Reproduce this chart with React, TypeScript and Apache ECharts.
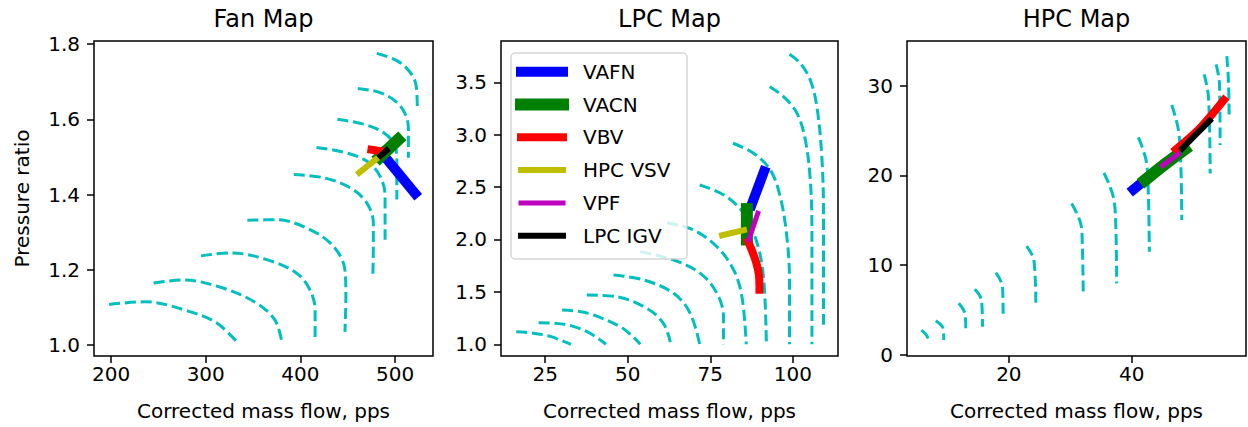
import React, { useEffect, useRef } from 'react';
import * as echarts from 'echarts';

const FONT = 'DejaVu Sans';
const SPEED_COLOR = '#00bfbf';

// ---------- axis ranges and ticks ----------
const fanXRange = [182, 540];
const fanYRange = [0.971, 1.808];
const fanXTicks = [200, 300, 400, 500];
const fanYTicks = [1.0, 1.2, 1.4, 1.6, 1.8];

const lpcXRange = [11.6, 113.7];
const lpcYRange = [0.888, 3.894];
const lpcXTicks = [25, 50, 75, 100];
const lpcYTicks = [1.0, 1.5, 2.0, 2.5, 3.0, 3.5];

const hpcXRange = [3.42, 58.6];
const hpcYRange = [-0.11, 34.98];
const hpcXTicks = [20, 40];
const hpcYTicks = [0, 10, 20, 30];

const mapTitles = ['Fan Map', 'LPC Map', 'HPC Map'];
const xAxisTitle = 'Corrected mass flow, pps';
const yAxisTitle = 'Pressure ratio';

// ---------- speed lines (corrected flow, pressure ratio) ----------
const fanSpeedLines = [
  [[198, 1.108], [236, 1.115], [283, 1.089], [312, 1.058], [334.5, 1.004]],
  [[245, 1.165], [276, 1.173], [319, 1.151], [354, 1.111], [373, 1.067], [380, 1.013]],
  [[295, 1.237], [326, 1.245], [364.5, 1.227], [396, 1.191], [410, 1.147], [415.5, 1.093], [415.5, 1.009]],
  [[344, 1.332], [375, 1.333], [410, 1.307], [435, 1.262], [447, 1.2], [448, 1.129], [447, 1.035]],
  [[393, 1.453], [424, 1.445], [452.5, 1.418], [470, 1.378], [477, 1.325], [477, 1.262], [476.5, 1.187]],
  [[417, 1.525], [445, 1.513], [470, 1.489], [484, 1.449], [489.4, 1.396], [489.4, 1.28]],
  [[439, 1.6], [466.5, 1.587], [487.6, 1.565], [500, 1.529], [501.8, 1.485], [501.8, 1.387]],
  [[460.6, 1.682], [484, 1.671], [501.8, 1.645], [511.6, 1.609], [514, 1.573], [514, 1.498]],
  [[480.7, 1.775], [501.8, 1.756], [515.8, 1.725], [522.2, 1.689], [523.5, 1.622]],
];

const lpcSpeedLines = [
  [[16.2, 1.12], [20.5, 1.11], [26.5, 1.075], [32.8, 1.0]],
  [[23, 1.206], [28, 1.2], [33, 1.175], [38.6, 1.105], [43.4, 1.0]],
  [[30.1, 1.327], [35, 1.315], [39.6, 1.28], [47.7, 1.168], [51, 1.09], [53.8, 1.0]],
  [[37.6, 1.47], [46.7, 1.454], [55.8, 1.343], [60.8, 1.2], [62.9, 1.02]],
  [[45.7, 1.661], [54.8, 1.614], [63.9, 1.487], [68.9, 1.296], [71.8, 1.0]],
  [[53.8, 1.884], [63.9, 1.804], [72, 1.677], [77, 1.487], [79, 1.263], [79, 1.0]],
  [[61.9, 2.16], [69.9, 2.091], [77, 1.931], [82.1, 1.709], [84.6, 1.454], [85.9, 1.0]],
  [[71.8, 2.52], [79.1, 2.425], [85.1, 2.25], [89.2, 1.964], [91.2, 1.614], [92, 1.0]],
  [[81.9, 2.918], [88.1, 2.823], [93.2, 2.663], [96.2, 2.408], [98.2, 2.027], [99, 1.614], [99, 1.0]],
  [[93, 3.458], [97.2, 3.363], [101.3, 3.204], [103.8, 2.95], [105.3, 2.568], [105.8, 2.09], [105.8, 1.0]],
  [[99, 3.767], [102.3, 3.681], [105.3, 3.522], [107.3, 3.267], [108.8, 2.79], [109.3, 2.25], [109.3, 1.153]],
];

const hpcSpeedLines = [
  [[5.77, 2.78], [6.6, 2.2], [7.12, 1.3]],
  [[8.1, 3.82], [9.29, 2.97], [9.4, 1.67]],
  [[11.85, 5.76], [12.83, 4.64], [12.99, 2.97]],
  [[14.46, 7.32], [15.55, 6.12], [15.71, 3.15]],
  [[17.88, 9.17], [18.97, 7.61], [19.07, 4.27]],
  [[22.89, 12.14], [24.07, 10.58], [24.4, 5.38]],
  [[30.22, 16.89], [31.69, 14.67], [31.95, 12.44], [32.11, 6.87]],
  [[35.48, 20.3], [37.0, 17.63], [37.4, 14.5], [37.55, 7.98]],
  [[41.08, 24.24], [42.33, 21.71], [42.7, 18.0], [42.87, 11.5]],
  [[46.52, 27.84], [47.6, 25.06], [48.0, 21.0], [48.15, 15.03]],
  [[51.79, 31.26], [52.49, 28.76], [52.76, 20.23]],
  [[53.74, 32.37], [54.28, 30.26], [54.39, 23.39]],
  [[55.48, 33.3], [55.74, 30.62], [55.86, 26.36]],
];

// ---------- operating lines per actuator ----------
const actuatorNames = ['VAFN', 'VACN', 'VBV', 'HPC VSV', 'VPF', 'LPC IGV'];
const actuatorColors = ['#0000ff', '#008000', '#ff0000', '#bfbf00', '#bf00bf', '#000000'];
const actuatorWidths = [10, 12, 8, 6, 5, 6];

const fanVAFN = [[486, 1.51], [521, 1.403]];
const fanVACN = [[484, 1.5], [503, 1.545]];
const fanVBV = [[475, 1.519], [485, 1.515]];
const fanHPCVSV = [[462, 1.458], [484, 1.502]];
const fanVPF = [[485, 1.505]];
const fanLPCIGV = [[484.5, 1.503], [491, 1.517]];

const lpcVAFN = [[87.5, 2.33], [91.3, 2.65]];
const lpcVACN = [[86.1, 2.0], [86.1, 2.29]];
const lpcVBV = [[86.5, 1.98], [88.5, 1.82], [89.7, 1.67], [89.9, 1.52]];
const lpcHPCVSV = [[78.6, 2.04], [85.2, 2.09]];
const lpcVPF = [[86.7, 2.0], [89.4, 2.25]];
const lpcLPCIGV = [[86.5, 1.99]];

const hpcVAFN = [[40.3, 18.45], [42.2, 19.5]];
const hpcVACN = [[42.2, 19.5], [45.5, 21.3], [48.6, 22.9]];
const hpcVBV = [[47.2, 22.9], [51, 25.2], [55, 28.4]];
const hpcHPCVSV = [[45.5, 21.3]];
const hpcVPF = [[45, 21.1], [47.6, 22.4]];
const hpcLPCIGV = [[48.2, 23.0], [50.5, 24.6], [52.7, 26.1]];

const fanOperating = [fanVAFN, fanVACN, fanVBV, fanHPCVSV, fanVPF, fanLPCIGV];
const lpcOperating = [lpcVAFN, lpcVACN, lpcVBV, lpcHPCVSV, lpcVPF, lpcLPCIGV];
const hpcOperating = [hpcVAFN, hpcVACN, hpcVBV, hpcHPCVSV, hpcVPF, hpcLPCIGV];

// ---------- layout ----------
const GRID_TOP = 41;
const GRID_H = 315;
const grids = [
  { left: 94, width: 339 },
  { left: 501, width: 337 },
  { left: 907, width: 339 },
];

function buildOption() {
  const xRanges = [fanXRange, lpcXRange, hpcXRange];
  const yRanges = [fanYRange, lpcYRange, hpcYRange];
  const xTicks = [fanXTicks, lpcXTicks, hpcXTicks];
  const yTicks = [fanYTicks, lpcYTicks, hpcYTicks];
  const yDecimals = [1, 1, 0];
  const speedSets = [fanSpeedLines, lpcSpeedLines, hpcSpeedLines];
  const opSets = [fanOperating, lpcOperating, hpcOperating];

  const labelStyle = { fontSize: 20, color: '#000', fontFamily: FONT };
  const tickStyle = { color: '#000', width: 1.5 };

  const xAxis = grids.map((g, i) => ({
    type: 'value',
    gridIndex: i,
    min: xRanges[i][0],
    max: xRanges[i][1],
    axisLine: { show: false, onZero: false },
    splitLine: { show: false },
    axisTick: { show: true, length: 7, inside: false, lineStyle: tickStyle, customValues: xTicks[i] },
    axisLabel: { ...labelStyle, margin: 8, customValues: xTicks[i], formatter: (v: number) => String(v) },
    name: xAxisTitle,
    nameLocation: 'middle',
    nameGap: 45,
    nameMoveOverlap: false,
    nameTextStyle: { fontSize: 20, color: '#000', fontFamily: FONT },
  }));

  const yAxis = grids.map((g, i) => ({
    type: 'value',
    gridIndex: i,
    min: yRanges[i][0],
    max: yRanges[i][1],
    axisLine: { show: false, onZero: false },
    splitLine: { show: false },
    axisTick: { show: true, length: 7, inside: false, lineStyle: tickStyle, customValues: yTicks[i] },
    axisLabel: {
      ...labelStyle,
      margin: 14,
      customValues: yTicks[i],
      formatter: (v: number) => v.toFixed(yDecimals[i]),
    },
    name: i === 0 ? yAxisTitle : '',
    nameLocation: 'middle',
    nameGap: 62,
    nameMoveOverlap: false,
    nameTextStyle: { fontSize: 20, color: '#000', fontFamily: FONT },
  }));

  const series: any[] = [];
  speedSets.forEach((lines, i) => {
    lines.forEach((pts, k) => {
      series.push({
        type: 'line',
        name: `speed-${i}-${k}`,
        xAxisIndex: i,
        yAxisIndex: i,
        data: pts,
        showSymbol: false,
        symbol: 'none',
        smooth: 0.35,
        silent: true,
        z: 2,
        lineStyle: { color: SPEED_COLOR, width: 3, type: [11, 4.8], cap: 'butt' },
      });
    });
  });
  actuatorNames.forEach((name, a) => {
    opSets.forEach((set, i) => {
      series.push({
        type: 'line',
        name,
        xAxisIndex: i,
        yAxisIndex: i,
        data: set[a],
        showSymbol: false,
        symbol: 'none',
        smooth: 0.3,
        silent: true,
        z: 3,
        lineStyle: { color: actuatorColors[a], width: actuatorWidths[a], cap: 'square', join: 'round' },
      });
    });
  });

  // Legend drawn in the LPC map
  const legendLeft = 511;
  const legendTop = 53;
  const rowY0 = 71.7;
  const rowStep = 32.8;
  const legendEls: any[] = [
    {
      type: 'rect',
      shape: { x: legendLeft, y: legendTop, width: 176, height: 206, r: 4 },
      style: { fill: 'rgba(255,255,255,0.8)', stroke: 'rgba(204,204,204,0.8)', lineWidth: 1.5 },
      z: 100,
    },
  ];
  actuatorNames.forEach((name, a) => {
    const y = rowY0 + a * rowStep;
    legendEls.push({
      type: 'line',
      shape: { x1: 521, y1: y, x2: 563, y2: y },
      style: { stroke: actuatorColors[a], lineWidth: actuatorWidths[a], lineCap: 'square' },
      z: 101,
    });
    legendEls.push({
      type: 'text',
      x: 583,
      y: y,
      style: {
        text: name,
        fill: '#000',
        fontSize: 20,
        fontFamily: FONT,
        align: 'left',
        verticalAlign: 'middle',
      },
      z: 101,
    });
  });

  return {
    animation: false,
    backgroundColor: '#ffffff',
    textStyle: { fontFamily: FONT },
    title: grids.map((g, i) => ({
      text: mapTitles[i],
      left: g.left + g.width / 2,
      top: 7,
      textAlign: 'center',
      padding: 0,
      textStyle: { fontSize: 24, fontWeight: 'normal', color: '#000', fontFamily: FONT },
    })),
    grid: grids.map((g) => ({
      left: g.left,
      top: GRID_TOP,
      width: g.width,
      height: GRID_H,
      show: true,
      borderColor: '#000',
      borderWidth: 1.5,
      backgroundColor: 'transparent',
      containLabel: false,
      outerBoundsMode: 'none',
    })),
    xAxis,
    yAxis,
    series,
    graphic: legendEls,
  };
}

export default function App() {
  const ref = useRef<HTMLDivElement>(null);
  useEffect(() => {
    const chart = echarts.init(ref.current as HTMLDivElement, null, { renderer: 'svg' });
    chart.setOption(buildOption() as any);
    return () => chart.dispose();
  }, []);
  return (
    <div
      ref={ref}
      style={{ position: 'fixed', left: 0, top: 0, width: 1248, height: 427, background: '#fff' }}
    />
  );
}
